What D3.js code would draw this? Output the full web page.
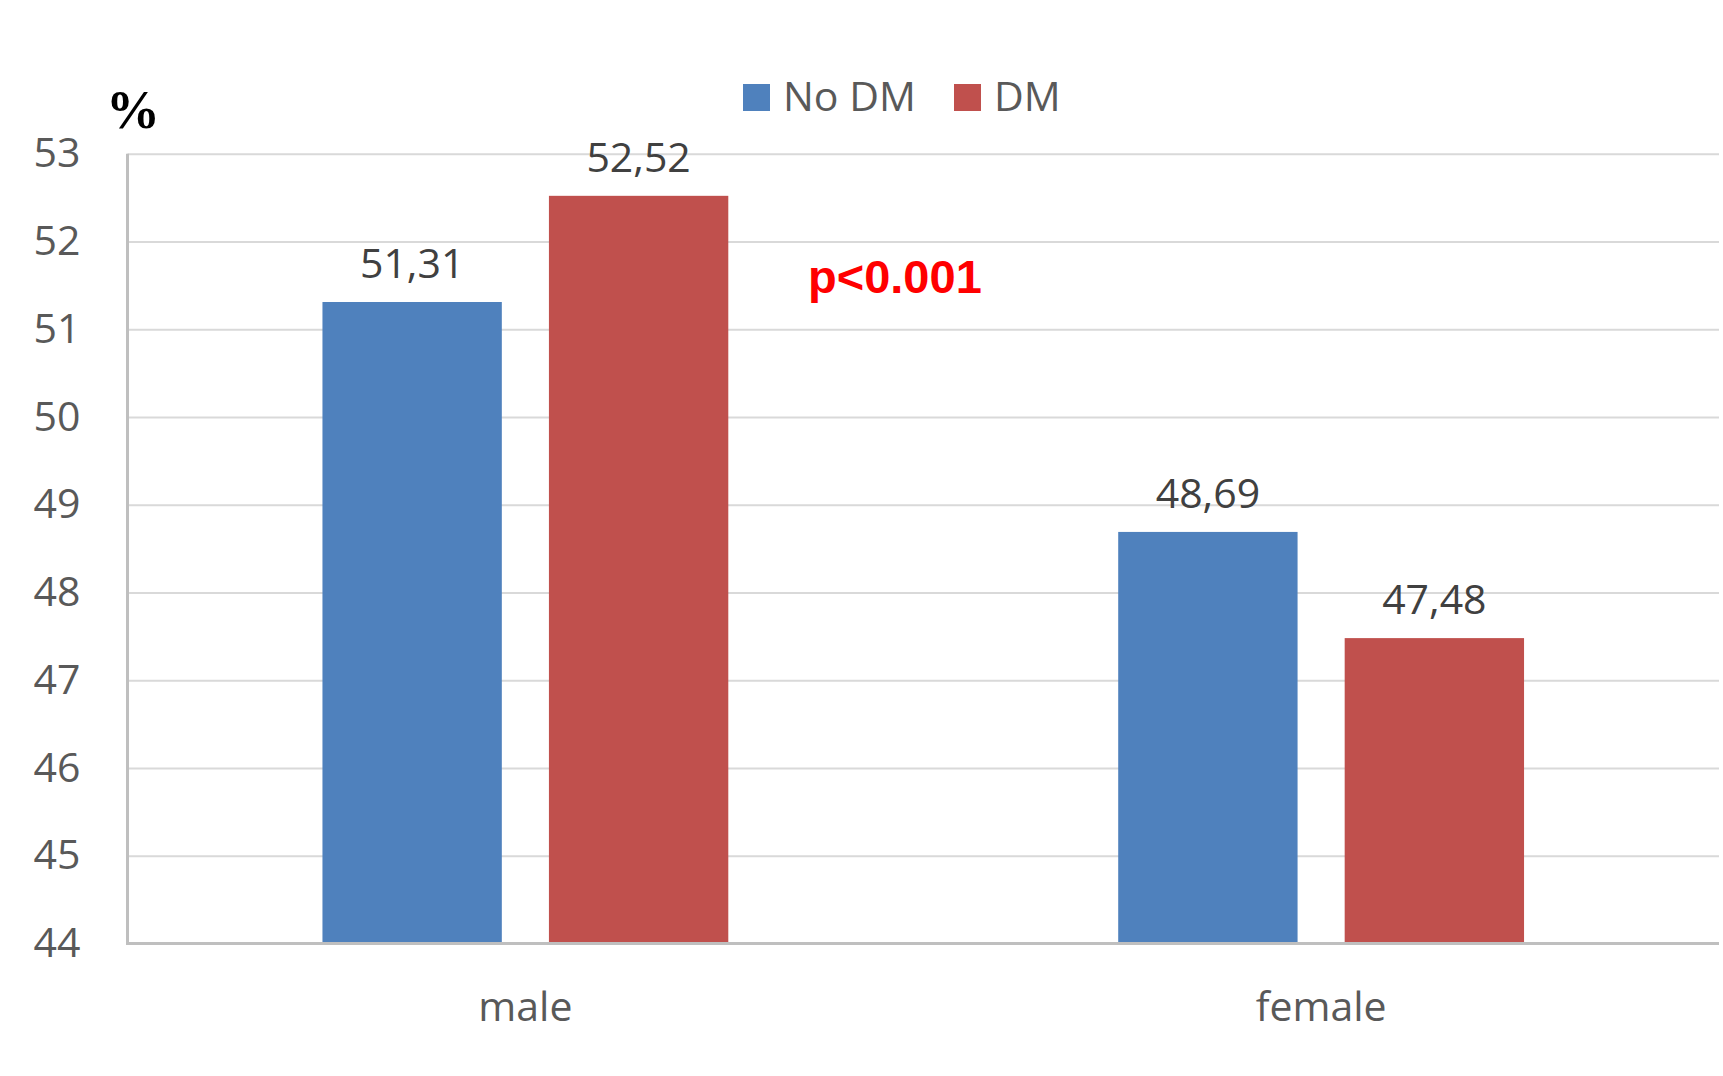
<!DOCTYPE html>
<html><head><meta charset="utf-8">
<script src="https://cdn.jsdelivr.net/npm/d3@7"></script>
<style>body{margin:0;background:#fff}svg{display:block}</style>
</head><body>
<script>
const categories = ["male", "female"];
const seriesNames = ["No DM", "DM"];
const noDM = [51.31, 48.69];
const dm = [52.52, 47.48];
const yTicks = [44, 45, 46, 47, 48, 49, 50, 51, 52, 53];
const seriesColors = ["#4F81BD", "#C0504D"];

(function () {
const W = 1723, H = 1076;
const mLeft = 127.5, mRight = 1719, mTop = 153.7, mBottom = 943.5;

const svg = d3.select("body").append("svg").attr("width", W).attr("height", H);

const y = d3.scaleLinear().domain([44, 53]).range([mBottom, mTop]);
const x0 = d3.scaleBand().domain(categories).range([mLeft, mRight]).paddingInner(0.49).paddingOuter(0.245);
const x1 = d3.scaleBand().domain(seriesNames).range([0, x0.bandwidth()]).paddingInner(0.208).paddingOuter(0);

// gridlines
const grid = svg.append("g").attr("transform", `translate(${mLeft},0)`)
  .call(d3.axisLeft(y).tickValues(yTicks).tickSize(-(mRight - mLeft)).tickFormat(""));
grid.select(".domain").remove();
grid.selectAll(".tick line").attr("stroke", "#d9d9d9").attr("stroke-width", 2);

// y labels
const yl = svg.append("g").attr("transform", `translate(${mLeft},0)`)
  .call(d3.axisLeft(y).tickValues(yTicks).tickSize(0).tickPadding(47));
yl.select(".domain").remove();
yl.selectAll(".tick text").attr("fill", "#595959").style("font-family", "'Open Sans', sans-serif").style("font-size", "41px");

// bars
const data = categories.map((c, i) => ({cat: c, vals: [{s: seriesNames[0], v: noDM[i]}, {s: seriesNames[1], v: dm[i]}]}));
const groups = svg.selectAll("g.grp").data(data).enter().append("g").attr("class", "grp")
  .attr("transform", d => `translate(${x0(d.cat)},0)`);
groups.selectAll("rect").data(d => d.vals).enter().append("rect")
  .attr("x", d => x1(d.s)).attr("width", x1.bandwidth())
  .attr("y", d => y(d.v)).attr("height", d => mBottom - y(d.v))
  .attr("fill", (d, i) => seriesColors[i]);
groups.selectAll("text.val").data(d => d.vals).enter().append("text").attr("class", "val")
  .attr("x", d => x1(d.s) + x1.bandwidth() / 2).attr("y", d => y(d.v) - 24)
  .attr("text-anchor", "middle").attr("fill", "#404040")
  .style("font-family", "'Open Sans', sans-serif").style("font-size", "41px")
  .text(d => d.v.toFixed(2).replace(".", ","));

// axes lines
svg.append("line").attr("x1", mLeft).attr("x2", mLeft).attr("y1", mTop).attr("y2", mBottom + 1.5)
  .attr("stroke", "#bfbfbf").attr("stroke-width", 3);
svg.append("line").attr("x1", mLeft - 1.5).attr("x2", mRight).attr("y1", mBottom).attr("y2", mBottom)
  .attr("stroke", "#bfbfbf").attr("stroke-width", 3);

// category labels
const xa = svg.append("g").attr("transform", `translate(0,${mBottom})`)
  .call(d3.axisBottom(x0).tickSize(0).tickPadding(48));
xa.select(".domain").remove();
xa.selectAll(".tick text").attr("fill", "#595959").style("font-family", "'Open Sans', sans-serif").style("font-size", "41px");

// legend
const leg = svg.append("g");
const legX = [743, 954];
seriesNames.forEach((s, i) => {
  leg.append("rect").attr("x", legX[i]).attr("y", 84).attr("width", 27).attr("height", 27).attr("fill", seriesColors[i]);
  leg.append("text").attr("x", legX[i] + 40).attr("y", 110.5).attr("fill", "#595959")
    .style("font-family", "'Open Sans', sans-serif").style("font-size", "41px").text(s);
});

// % label
svg.append("text").attr("x", 106).attr("y", 128).attr("fill", "#000")
  .style("font-family", "'Liberation Serif', 'Times New Roman', serif").style("font-weight", "bold").style("font-size", "54px").text("%");

// p-value
svg.append("text").attr("x", 808).attr("y", 293).attr("fill", "#ff0000")
  .style("font-family", "'Liberation Sans', Arial, sans-serif").style("font-weight", "bold").style("font-size", "47px").text("p<0.001");
})();
</script>
</body></html>
